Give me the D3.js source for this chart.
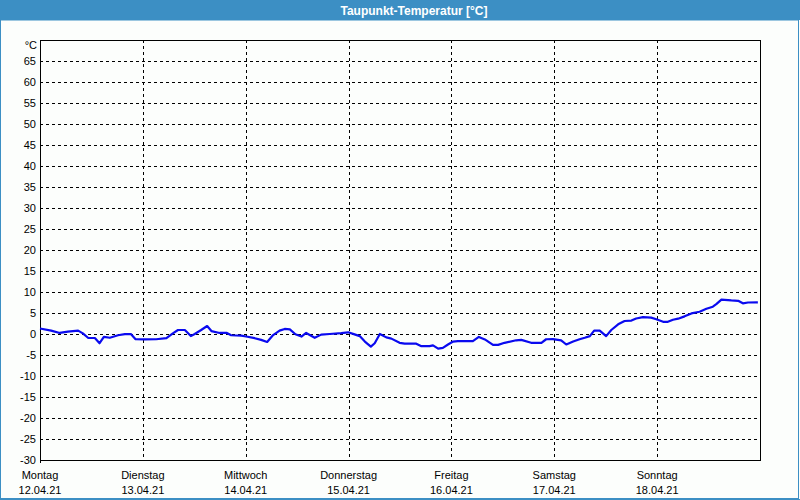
<!DOCTYPE html>
<html><head><meta charset="utf-8">
<script src="https://cdn.jsdelivr.net/npm/d3@7"></script>
<style>html,body{margin:0;padding:0;background:#fff;}svg{display:block;}</style>
</head><body>
<script>
const titleText = "Taupunkt-Temperatur [°C]";
const unitLabel = "°C";
const dayNames = ["Montag","Dienstag","Mittwoch","Donnerstag","Freitag","Samstag","Sonntag"];
const dayDates = ["12.04.21","13.04.21","14.04.21","15.04.21","16.04.21","17.04.21","18.04.21"];
const yTicks = [65,60,55,50,45,40,35,30,25,20,15,10,5,0,-5,-10,-15,-20,-25,-30];
// hours since Monday 12.04.21 00:00
const hours = [0,2.6,4.6,6.5,8.9,10,11.2,12.8,13.9,14.9,16.3,18.2,19.8,21.2,22.3,24.4,27.1,29.5,31,32.2,33.8,35.2,36.1,37.6,39,40,41.9,43.5,44.6,47,48.1,50.1,51.6,53,54.4,55.9,57.1,58.3,59.6,61,62.1,64.1,65.6,67.6,70.3,71.9,73.4,74.6,75.8,77.2,78.1,79.3,80.8,82,83.9,85.1,87.8,89,90.9,91.7,92.9,94,95.2,96.4,97.5,101,102.4,103.8,105.7,106.9,108.4,111.1,112.3,114.6,117,118.1,119.7,121.6,122.8,124.4,125.9,127.1,128.3,129.3,130.6,132.1,133.3,134.9,136.4,138,139.1,140.7,142.6,143.8,145.4,146.5,147.7,148.9,150.4,152,153.9,155.5,157,157.8,159,161.3,162.9,164,165.2,167.5];
const dewpoint = [1.3,0.8,0.25,0.55,0.8,0.15,-0.9,-0.95,-2.2,-0.7,-0.9,-0.3,-0.05,0,-1.25,-1.3,-1.25,-1.0,0.15,0.95,0.95,-0.5,0,0.95,1.9,0.7,0.25,0.3,-0.3,-0.4,-0.6,-1.0,-1.4,-1.9,-0.25,0.8,1.2,1.1,-0.05,-0.6,0.25,-0.9,-0.15,0,0.2,0.4,-0.1,-0.5,-1.8,-3.0,-2.2,0,-0.8,-1.1,-2.1,-2.3,-2.3,-2.9,-2.9,-2.7,-3.5,-3.3,-2.5,-1.8,-1.7,-1.7,-0.7,-1.3,-2.6,-2.6,-2.1,-1.5,-1.4,-2.1,-2.1,-1.25,-1.2,-1.5,-2.5,-1.8,-1.25,-0.9,-0.5,0.8,0.8,-0.5,0.95,2.3,3.1,3.2,3.7,4.0,3.9,3.5,2.9,2.9,3.4,3.65,4.2,4.9,5.3,6.0,6.5,7.1,8.2,8.0,7.9,7.3,7.5,7.55];

const W = 800, H = 500;
const m = {left:40, right:760, top:40, bottom:460};
const blue = "#3c8fc4";
const font = "'Liberation Sans', Arial, sans-serif";

const svg = d3.select("body").append("svg").attr("width", W).attr("height", H);
svg.append("rect").attr("width", W).attr("height", H).attr("fill", "#fcfefc");
// title bar
svg.append("rect").attr("x",0).attr("y",0).attr("width",W).attr("height",20).attr("fill",blue);
svg.append("text").attr("x",414).attr("y",14.5).attr("text-anchor","middle")
  .attr("fill","#fff").attr("font-family",font).attr("font-weight","bold").attr("font-size",12)
  .text(titleText);
// window border
svg.append("rect").attr("x",0.5).attr("y",20).attr("width",W-2).attr("height",H-21.5)
  .attr("fill","none").attr("stroke",blue).attr("stroke-width",1);
svg.append("line").attr("x1",798.5).attr("x2",798.5).attr("y1",20).attr("y2",H).attr("stroke",blue);
svg.append("line").attr("x1",0).attr("x2",W).attr("y1",499.5).attr("y2",499.5).attr("stroke",blue);

const t0 = new Date(2021,3,12,0,0);
const toDate = h => new Date(t0.getTime() + h*3600000);
const x = d3.scaleTime().domain([t0, toDate(168)]).range([m.left, m.right]);
const y = d3.scaleLinear().domain([-30,70]).range([m.bottom, m.top]);

const g = svg.append("g");
// horizontal grid
g.selectAll("line.hg").data(yTicks.filter(v=>v>-30)).enter().append("line")
  .attr("x1",m.left).attr("x2",m.right)
  .attr("y1",d=>Math.round(y(d))+0.5).attr("y2",d=>Math.round(y(d))+0.5)
  .attr("stroke","#000").attr("stroke-dasharray","3,3");
// vertical grid
const days = d3.range(7).map(i=>toDate(i*24));
g.selectAll("line.vg").data(days.slice(1)).enter().append("line")
  .attr("x1",d=>Math.round(x(d))+0.5).attr("x2",d=>Math.round(x(d))+0.5)
  .attr("y1",m.top).attr("y2",m.bottom)
  .attr("stroke","#000").attr("stroke-dasharray","3,3");
// frame
g.append("rect").attr("x",m.left+0.5).attr("y",m.top+0.5)
  .attr("width",m.right-m.left).attr("height",m.bottom-m.top)
  .attr("fill","none").attr("stroke","#000");
g.append("line").attr("x1",m.left+0.5).attr("x2",m.left+0.5).attr("y1",m.bottom).attr("y2",m.bottom+3).attr("stroke","#000");

// y labels
g.selectAll("text.yl").data(yTicks).enter().append("text")
  .attr("x",36).attr("y",d=>y(d)+4).attr("text-anchor","end")
  .attr("font-family",font).attr("font-size",11).attr("fill","#000").text(d=>d);
g.append("text").attr("x",37).attr("y",49).attr("text-anchor","end")
  .attr("font-family",font).attr("font-size",11).attr("fill","#000").text(unitLabel);

// x labels
g.selectAll("text.xd").data(days).enter().append("text")
  .attr("x",d=>x(d)).attr("y",479).attr("text-anchor","middle")
  .attr("font-family",font).attr("font-size",11).attr("fill","#000").text((d,i)=>dayNames[i]);
g.selectAll("text.xt").data(days).enter().append("text")
  .attr("x",d=>x(d)).attr("y",494).attr("text-anchor","middle")
  .attr("font-family",font).attr("font-size",11).attr("fill","#000").text((d,i)=>dayDates[i]);

// line
const pts = hours.map((h,i)=>({t:toDate(h), v:dewpoint[i]}));
g.append("path").datum(pts)
  .attr("d", d3.line().x(d=>x(d.t)).y(d=>y(d.v)))
  .attr("fill","none").attr("stroke","#0a0aef").attr("stroke-width",2.2).attr("stroke-linejoin","round");
</script>
</body></html>
